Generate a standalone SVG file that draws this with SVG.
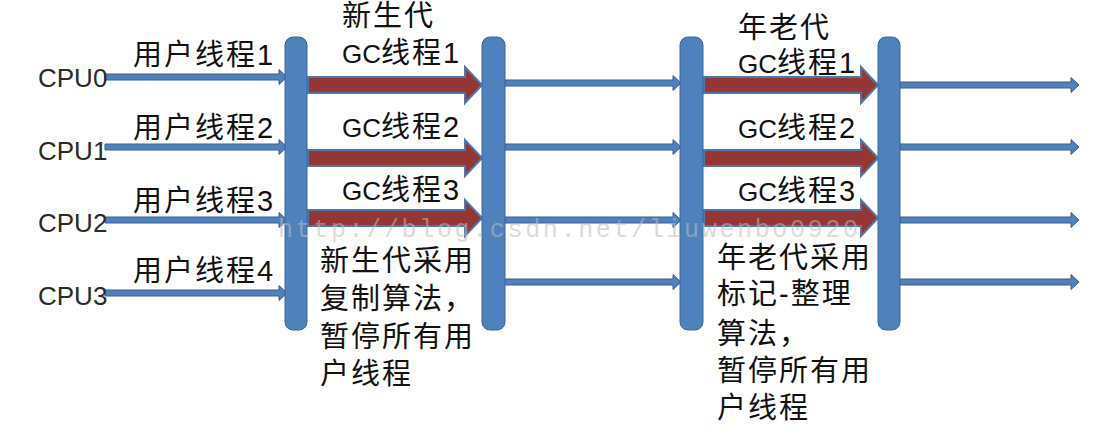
<svg xmlns="http://www.w3.org/2000/svg" width="1117" height="444" viewBox="0 0 1117 444">
<style>
.bar{fill:#4F81BD;stroke:#3D6497;stroke-width:1}
.blue{fill:#4F81BD;stroke:#3A5F8E;stroke-width:1}
.red{fill:#943634;stroke:#4F77AA;stroke-width:2}
.t{font-family:"Liberation Sans","Noto Sans CJK SC",sans-serif;font-size:29px;letter-spacing:2px;fill:#111}
.cpu{font-family:"Liberation Sans","Noto Sans CJK SC",sans-serif;font-size:26px;fill:#2a2a2a}
.lat{font-size:26px;letter-spacing:0}
.wm{font-family:"Liberation Mono",monospace;font-size:25px;fill:#bdbdbd;opacity:0.55}
</style>
<rect width="1117" height="444" fill="#ffffff"/>
<g id="connectors">
  <polygon class="blue" points="105,74 279,74 279,69.5 287,77 279,84.5 279,80 105,80"/>
  <polygon class="blue" points="105,144 279,144 279,139.5 287,147 279,154.5 279,150 105,150"/>
  <polygon class="blue" points="105,217 279,217 279,212.5 287,220 279,227.5 279,223 105,223"/>
  <polygon class="blue" points="105,290 279,290 279,285.5 287,293 279,300.5 279,296 105,296"/>
  <polygon class="red" points="308,77 465,77 465,67 482,85 465,103 465,93 308,93"/>
  <polygon class="red" points="308,150 465,150 465,140 482,158 465,176 465,166 308,166"/>
  <polygon class="red" points="308,210 465,210 465,200 482,218 465,236 465,226 308,226"/>
  <polygon class="blue" points="505,80 673,80 673,75.5 681,83 673,90.5 673,86 505,86"/>
  <polygon class="blue" points="505,144 673,144 673,139.5 681,147 673,154.5 673,150 505,150"/>
  <polygon class="blue" points="505,217 673,217 673,212.5 681,220 673,227.5 673,223 505,223"/>
  <polygon class="blue" points="505,279 673,279 673,274.5 681,282 673,289.5 673,285 505,285"/>
  <polygon class="red" points="704,77 861,77 861,67 878,85 861,103 861,93 704,93"/>
  <polygon class="red" points="704,150 861,150 861,140 878,158 861,176 861,166 704,166"/>
  <polygon class="red" points="704,210 861,210 861,200 878,218 861,236 861,226 704,226"/>
  <polygon class="blue" points="900,82 1071,82 1071,77.5 1079,85 1071,92.5 1071,88 900,88"/>
  <polygon class="blue" points="900,144 1071,144 1071,139.5 1079,147 1071,154.5 1071,150 900,150"/>
  <polygon class="blue" points="900,217 1071,217 1071,212.5 1079,220 1071,227.5 1071,223 900,223"/>
  <polygon class="blue" points="900,279 1071,279 1071,274.5 1079,282 1071,289.5 1071,285 900,285"/>
</g>
<g id="bar1"><rect class="bar" x="285" y="37" width="22" height="293" rx="8"/></g>
<g id="bar2"><rect class="bar" x="482" y="37" width="23" height="293" rx="8"/></g>
<g id="bar3"><rect class="bar" x="680" y="37" width="23" height="293" rx="8"/></g>
<g id="bar4"><rect class="bar" x="878" y="37" width="22" height="293" rx="8"/></g>
<g id="cpu-labels">
  <text class="cpu" x="38" y="87">CPU0</text>
  <text class="cpu" x="38" y="160">CPU1</text>
  <text class="cpu" x="38" y="232">CPU2</text>
  <text class="cpu" x="38" y="305">CPU3</text>
</g>
<g id="user-thread-labels">
  <text class="t" x="133" y="65">用户线程1</text>
  <text class="t" x="133" y="138">用户线程2</text>
  <text class="t" x="133" y="211">用户线程3</text>
  <text class="t" x="133" y="281">用户线程4</text>
</g>
<g id="young-gc-labels">
  <text class="t" x="342" y="26">新生代</text>
  <text class="t" x="342" y="63"><tspan class="lat">GC</tspan>线程1</text>
  <text class="t" x="342" y="137"><tspan class="lat">GC</tspan>线程2</text>
  <text class="t" x="342" y="200"><tspan class="lat">GC</tspan>线程3</text>
</g>
<g id="young-note">
  <text class="t" x="320" y="271">新生代采用</text>
  <text class="t" x="320" y="309">复制算法，</text>
  <text class="t" x="320" y="347">暂停所有用</text>
  <text class="t" x="320" y="384">户线程</text>
</g>
<g id="old-gc-labels">
  <text class="t" x="738" y="38">年老代</text>
  <text class="t" x="738" y="73"><tspan class="lat">GC</tspan>线程1</text>
  <text class="t" x="738" y="138"><tspan class="lat">GC</tspan>线程2</text>
  <text class="t" x="738" y="201"><tspan class="lat">GC</tspan>线程3</text>
</g>
<g id="old-note">
  <text class="t" x="717" y="268">年老代采用</text>
  <text class="t" x="717" y="304">标记-整理</text>
  <text class="t" x="717" y="344">算法，</text>
  <text class="t" x="717" y="381">暂停所有用</text>
  <text class="t" x="717" y="418">户线程</text>
</g>
<text class="wm" x="278" y="237" textLength="580">http://blog.csdn.net/liuwenbo0920</text>
</svg>
